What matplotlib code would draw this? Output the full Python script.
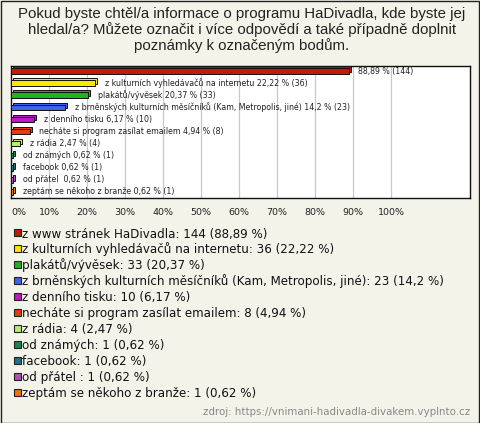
import matplotlib
matplotlib.use('Agg')
import matplotlib.pyplot as plt
import matplotlib.transforms as mtransforms
from matplotlib.patches import Rectangle

# survey answers
answers = [
    'z www stránek HaDivadla',
    'z kulturních vyhledávačů na internetu',
    'plakátů/vývěsek',
    'z brněnských kulturních měsíčníků (Kam, Metropolis, jiné)',
    'z denního tisku',
    'necháte si program zasílat emailem',
    'z rádia',
    'od známých',
    'facebook',
    'od přátel ',
    'zeptám se někoho z branže',
]
counts = [144, 36, 33, 23, 10, 8, 4, 1, 1, 1, 1]
percents = [88.89, 22.22, 20.37, 14.2, 6.17, 4.94, 2.47, 0.62, 0.62, 0.62, 0.62]
bar_colors = ['#c41a00', '#ffe600', '#1fb41f', '#3c64ec', '#c018c8', '#e83c08',
              '#b8ec70', '#118a50', '#20708a', '#b050b8', '#ec7408']
x_ticks = [0, 10, 20, 30, 40, 50, 60, 70, 80, 90, 100]

title = ('Pokud byste chtěl/a informace o programu HaDivadla, kde byste jej\n'
         'hledal/a? Můžete označit i více odpovědí a také případně doplnit\n'
         'poznámky k označeným bodům.')
source = 'zdroj: https://vnimani-hadivadla-divakem.vyplnto.cz'


def cz(v):
    return f'{v:g}'.replace('.', ',')


W, H = 480, 423
bg = '#f4f3e9'
fig = plt.figure(figsize=(W / 100, H / 100), dpi=100, facecolor=bg)

# outer frame
fig.patches.append(Rectangle((0.5 / W, 0.5 / H), 1 - 1.5 / W, 1 - 1.5 / H,
                             transform=fig.transFigure, fill=False,
                             edgecolor='#222222', linewidth=1))

fig.text(242 / W, 1 - 7 / H, title, ha='center', va='top', fontsize=10.8,
         family='Liberation Sans', color='#222222', linespacing=1.1)

ax = fig.add_axes([11 / W, 1 - 198 / H, 459 / W, 132 / H])
ax.set_facecolor('white')
for s in ax.spines.values():
    s.set_color('#111111')
    s.set_linewidth(1)

# pseudo-3D bars: offset back face + front face
rows = list(range(len(answers)))
shadow = mtransforms.offset_copy(ax.transData, fig=fig, x=2, y=2, units='dots')
ax.barh(rows, percents, height=0.46, color=bar_colors, edgecolor='#111111',
        linewidth=0.7, transform=shadow, zorder=2)
ax.barh(rows, percents, height=0.46, color=bar_colors, edgecolor='#111111',
        linewidth=0.7, zorder=3)

for i, (name, p, n) in enumerate(zip(answers, percents, counts)):
    label = f'{cz(p)} % ({n})' if i == 0 else f'{name} {cz(p)} % ({n})'
    ax.annotate(label, (p, i), xytext=(7, 0), textcoords='offset points',
                va='center', ha='left', fontsize=5.7, color='#222222', zorder=4)

ax.set_xlim(0, 120.8)
ax.set_ylim(10.5, -0.42)
ax.set_yticks([])
ax.set_xticks(x_ticks)
ax.set_xticklabels([f'{t}%' for t in x_ticks], fontsize=6.8, color='#222222')
ax.tick_params(axis='x', length=0, pad=7)
ax.get_xticklabels()[0].set_horizontalalignment('left')
ax.xaxis.grid(True, color='#c8c8c8', linewidth=0.9)
ax.set_axisbelow(True)

# legend
for i, (name, p, n) in enumerate(zip(answers, percents, counts)):
    yc = 233 + i * 15.9
    fig.patches.append(Rectangle((13.5 / W, 1 - (yc + 3.5) / H), 7 / W, 7 / H,
                                 transform=fig.transFigure, facecolor=bar_colors[i],
                                 edgecolor='#222222', linewidth=0.8))
    fig.text(22.5 / W, 1 - (yc + 4.5) / H, f'{name}: {n} ({cz(p)} %)', ha='left',
             va='baseline', fontsize=8.6, color='#111111')

fig.text(470 / W, 1 - 412 / H, source, ha='right', va='center', fontsize=7.4,
         color='#888888')

fig.savefig('out.png', dpi=100, facecolor=bg)
